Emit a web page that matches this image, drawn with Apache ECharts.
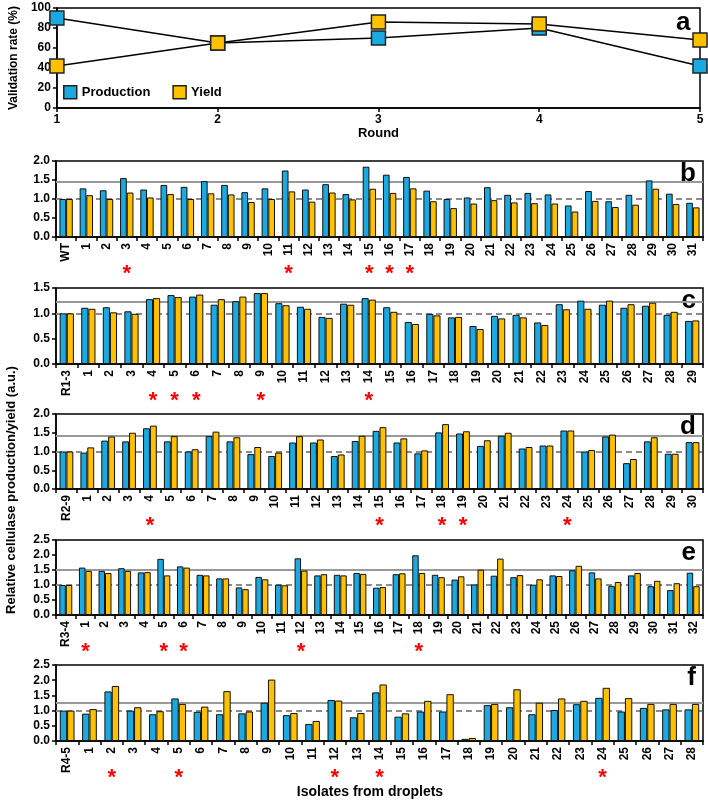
<!DOCTYPE html>
<html><head><meta charset="utf-8">
<script src="https://cdn.jsdelivr.net/npm/echarts@6/dist/echarts.min.js"></script>
<style>html,body{margin:0;padding:0;background:#fff}#c{width:708px;height:801px}</style>
</head><body><div id="c"></div>
<script>
// Panel a
const roundsA = ['1','2','3','4','5'];
const prodA = [90, 65, 70, 80, 42];
const yieldA = [42, 65, 86, 84, 68];

// Panel b
const catsB = ['WT','1','2','3','4','5','6','7','8','9','10','11','12','13','14','15','16','17','18','19','20','21','22','23','24','25','26','27','28','29','30','31'];
const prodB = [1.0,1.28,1.23,1.55,1.25,1.37,1.32,1.47,1.37,1.18,1.28,1.75,1.25,1.39,1.13,1.85,1.64,1.58,1.22,1.0,1.04,1.31,1.11,1.16,1.12,0.83,1.21,0.94,1.11,1.49,1.14,0.9];
const yieldB = [1.0,1.1,1.0,1.17,1.04,1.13,1.0,1.15,1.12,0.92,1.0,1.2,0.93,1.17,0.99,1.27,1.16,1.28,0.94,0.76,0.88,0.97,0.91,0.89,0.88,0.67,0.95,0.79,0.85,1.27,0.87,0.78];
const starsB = ['3','11','15','16','17'];
const refB = 1.46;

// Panel c
const catsC = ['R1-3','1','2','3','4','5','6','7','8','9','10','11','12','13','14','15','16','17','18','19','20','21','22','23','24','25','26','27','28','29'];
const prodC = [1.0,1.11,1.12,1.04,1.28,1.36,1.33,1.17,1.24,1.4,1.2,1.13,0.93,1.19,1.3,1.12,0.83,0.99,0.92,0.75,0.95,0.97,0.82,1.18,1.25,1.17,1.11,1.15,0.97,0.85];
const yieldC = [1.0,1.09,1.02,0.99,1.3,1.32,1.37,1.28,1.33,1.4,1.16,1.09,0.91,1.17,1.27,1.03,0.79,0.96,0.93,0.69,0.9,0.92,0.77,1.08,1.09,1.25,1.18,1.21,1.03,0.86];
const starsC = ['4','5','6','9','14'];
const refC = 1.23;

// Panel d
const catsD = ['R2-9','1','2','3','4','5','6','7','8','9','10','11','12','13','14','15','16','17','18','19','20','21','22','23','24','25','26','27','28','29','30'];
const prodD = [1.0,0.97,1.29,1.27,1.62,1.27,1.0,1.41,1.27,0.93,0.88,1.24,1.24,0.88,1.28,1.55,1.24,0.95,1.51,1.48,1.15,1.42,1.08,1.16,1.56,1.0,1.4,0.69,1.27,0.94,1.25];
const yieldD = [1.0,1.11,1.4,1.5,1.69,1.41,1.06,1.53,1.38,1.12,0.97,1.41,1.32,0.92,1.42,1.65,1.35,1.03,1.73,1.54,1.3,1.5,1.12,1.16,1.56,1.04,1.45,0.8,1.38,0.94,1.25];
const starsD = ['4','15','18','19','24'];
const refD = 1.41;

// Panel e
const catsE = ['R3-4','1','2','3','4','5','6','7','8','9','10','11','12','13','14','15','16','17','18','19','20','21','22','23','24','25','26','27','28','29','30','31','32'];
const prodE = [1.0,1.58,1.47,1.56,1.42,1.87,1.62,1.34,1.22,0.92,1.27,1.01,1.89,1.32,1.34,1.4,0.91,1.36,1.99,1.34,1.18,1.02,1.31,1.26,1.01,1.32,1.49,1.42,0.97,1.32,0.96,0.83,1.41];
const yieldE = [1.0,1.47,1.4,1.47,1.43,1.32,1.58,1.32,1.22,0.86,1.19,0.99,1.48,1.36,1.32,1.37,0.93,1.39,1.4,1.26,1.29,1.51,1.88,1.33,1.19,1.3,1.64,1.22,1.1,1.4,1.14,1.06,0.96];
const starsE = ['1','5','6','12','18'];
const refE = 1.51;

// Panel f
const catsF = ['R4-5','1','2','3','4','5','6','7','8','9','10','11','12','13','14','15','16','17','18','19','20','21','22','23','24','25','26','27','28'];
const prodF = [1.0,0.9,1.63,1.0,0.88,1.4,0.96,0.88,0.91,1.26,0.85,0.56,1.35,0.78,1.6,0.8,0.97,0.97,0.07,1.18,1.11,0.88,1.02,1.21,1.42,0.97,1.09,1.04,1.04];
const yieldF = [1.0,1.05,1.81,1.11,0.98,1.22,1.13,1.64,0.97,2.02,0.92,0.66,1.33,0.92,1.86,0.91,1.32,1.54,0.1,1.22,1.7,1.26,1.4,1.32,1.75,1.41,1.22,1.22,1.22];
const starsF = ['2','5','12','14','24'];
const refF = 1.26;

const BLUE = '#1aa9e1', YELLOW = '#ffc000';
const FONT = 'Liberation Sans';

const panels = [
  {letter:'b', cats:catsB, p:prodB, y:yieldB, stars:starsB, ref:refB, top:161, h:76, max:2.0},
  {letter:'c', cats:catsC, p:prodC, y:yieldC, stars:starsC, ref:refC, top:288, h:76, max:1.5},
  {letter:'d', cats:catsD, p:prodD, y:yieldD, stars:starsD, ref:refD, top:414, h:75, max:2.0},
  {letter:'e', cats:catsE, p:prodE, y:yieldE, stars:starsE, ref:refE, top:540, h:75, max:2.5},
  {letter:'f', cats:catsF, p:prodF, y:yieldF, stars:starsF, ref:refF, top:665, h:76, max:2.5}
];

const grid = [{left:40, right:8, top:8, height:100, show:true, borderColor:'#000', borderWidth:1.5, backgroundColor:'transparent'}];
const xAxis = [{
  gridIndex:0, type:'category', data:roundsA, boundaryGap:false,
  axisLine:{lineStyle:{color:'#000', width:1.5}},
  axisTick:{show:true, lineStyle:{color:'#000', width:1.5}, length:4},
  axisLabel:{color:'#000', fontFamily:FONT, fontWeight:'bold', fontSize:12, margin:6},
  name:'Round', nameLocation:'middle', nameGap:19,
  nameTextStyle:{color:'#000', fontFamily:FONT, fontWeight:'bold', fontSize:13}
}];
const yAxis = [{
  gridIndex:0, type:'value', min:0, max:100, interval:20,
  axisLine:{show:true, lineStyle:{color:'#000', width:1.5}},
  axisTick:{show:true, lineStyle:{color:'#000', width:1.5}, length:4},
  splitLine:{show:false},
  axisLabel:{color:'#000', fontFamily:FONT, fontWeight:'bold', fontSize:12, margin:6},
  name:'Validation rate (%)', nameLocation:'middle', nameGap:26,
  nameTextStyle:{color:'#000', fontFamily:FONT, fontWeight:'bold', fontSize:12}
}];
const series = [
  {name:'Production', type:'line', xAxisIndex:0, yAxisIndex:0, data:prodA, symbol:'rect', symbolSize:14,
   lineStyle:{color:'#000', width:1.5}, itemStyle:{color:BLUE, borderColor:'#222', borderWidth:1.5}, z:3},
  {name:'Yield', type:'line', xAxisIndex:0, yAxisIndex:0, data:yieldA, symbol:'rect', symbolSize:14,
   lineStyle:{color:'#000', width:1.5}, itemStyle:{color:YELLOW, borderColor:'#222', borderWidth:1.5}, z:4}
];
const graphic = [
  {type:'text', left:676, top:10, style:{text:'a', font:'bold 26px "Liberation Sans"', fill:'#000'}},
  {type:'text', rotation:Math.PI/2, x:11, y:490, style:{text:'Relative cellulase production/yield (a.u.)', font:'bold 13px "Liberation Sans"', fill:'#000', align:'center', verticalAlign:'middle'}},
  {type:'text', x:370, y:792, style:{text:'Isolates from droplets', font:'bold 14px "Liberation Sans"', fill:'#000', align:'center', verticalAlign:'middle'}}
];

panels.forEach((pn, i) => {
  const gi = i + 1;
  grid.push({left:56, right:5, top:pn.top, height:pn.h, show:true, borderColor:'#000', borderWidth:1.5, backgroundColor:'transparent'});
  const xi = xAxis.length;
  xAxis.push({
    gridIndex:gi, type:'category', data:pn.cats, position:'bottom',
    axisLine:{lineStyle:{color:'#000', width:1.5}},
    axisTick:{show:true, lineStyle:{color:'#000', width:1.5}, length:4},
    axisLabel:{color:'#000', fontFamily:FONT, fontWeight:'bold', fontSize:12, rotate:90, interval:0, margin:6}
  });
  xAxis.push({
    gridIndex:gi, type:'category', data:pn.cats, position:'bottom', offset:37,
    axisLine:{show:false}, axisTick:{show:false},
    axisLabel:{interval:0, margin:0, verticalAlign:'middle', color:'#ff0000', fontFamily:FONT, fontWeight:'bold', fontSize:22,
      formatter: v => pn.stars.indexOf(v) >= 0 ? '*' : ''}
  });
  const yi = yAxis.length;
  yAxis.push({
    gridIndex:gi, type:'value', min:0, max:pn.max, interval:0.5,
    axisLine:{show:true, lineStyle:{color:'#000', width:1.5}},
    axisTick:{show:true, lineStyle:{color:'#000', width:1.5}, length:4},
    splitLine:{show:false},
    axisLabel:{color:'#000', fontFamily:FONT, fontWeight:'bold', fontSize:12, margin:6, formatter: v => v.toFixed(1)}
  });
  series.push({
    name:'Production', type:'bar', xAxisIndex:xi, yAxisIndex:yi, data:pn.p,
    barGap:'0%', barCategoryGap:'34%',
    itemStyle:{color:BLUE, borderColor:'#111', borderWidth:1},
    markLine:{silent:true, symbol:'none', label:{show:false}, z:1,
      data:[
        {yAxis:pn.ref, lineStyle:{color:'#999', width:2, type:'solid'}},
        {yAxis:1.0, lineStyle:{color:'#8c8c8c', width:2, type:[6,4]}}
      ]}
  });
  series.push({
    name:'Yield', type:'bar', xAxisIndex:xi, yAxisIndex:yi, data:pn.y,
    barGap:'0%', barCategoryGap:'34%',
    itemStyle:{color:YELLOW, borderColor:'#111', borderWidth:1}
  });
  graphic.push({type:'text', right:12, top:pn.top, style:{text:pn.letter, font:'bold 26px "Liberation Sans"', fill:'#000'}});
});

const chart = echarts.init(document.getElementById('c'), null, {renderer:'canvas'});
chart.setOption({
  animation:false,
  legend:{show:true, left:58, top:80, itemWidth:13, itemHeight:13, itemGap:22,
    data:[{name:'Production', icon:'rect'}, {name:'Yield', icon:'rect'}],
    textStyle:{color:'#000', fontFamily:FONT, fontWeight:'bold', fontSize:13},
    itemStyle:{borderColor:'#222', borderWidth:1.5}},
  grid, xAxis, yAxis, series, graphic
});
</script></body></html>
